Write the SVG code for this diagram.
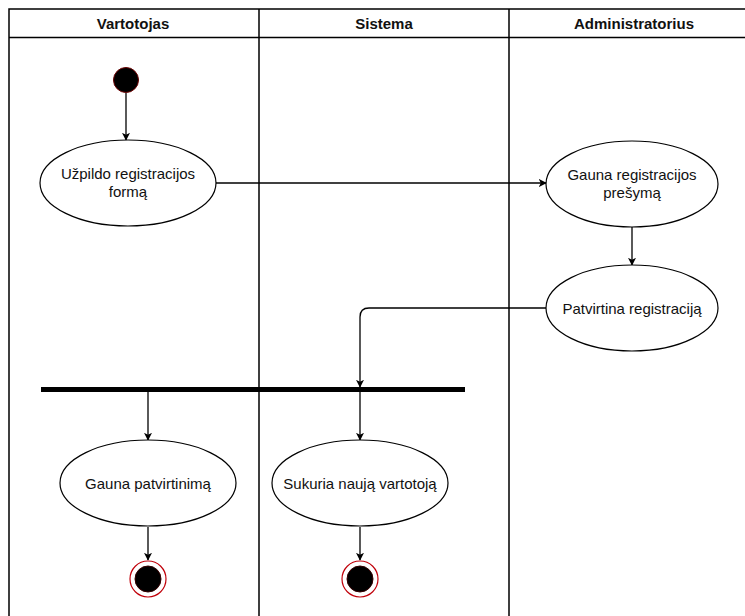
<svg xmlns="http://www.w3.org/2000/svg" width="745" height="616" viewBox="0 0 745 616">
  <style>
    .lane { fill: none; stroke: #000; stroke-width: 1.5; }
    .head { font-family: "Liberation Sans", Arial, sans-serif; font-size: 15px; font-weight: bold; fill: #111; text-anchor: middle; }
    .act { fill: #fff; stroke: #000; stroke-width: 1.2; }
    .lbl { font-family: "Liberation Sans", Arial, sans-serif; font-size: 15px; fill: #111; text-anchor: middle; }
    .edge { fill: none; stroke: #000; stroke-width: 1.3; }
    .start { fill: #000; stroke: #6b0000; stroke-width: 1; }
    .endring { fill: #fff; stroke: #c0000a; stroke-width: 1.2; }
    .endcore { fill: #000; stroke: #300; stroke-width: 1; }
  </style>
  <defs>
    <marker id="arrow" viewBox="0 0 10 10" refX="9" refY="5" markerWidth="8" markerHeight="8" markerUnits="userSpaceOnUse" orient="auto">
      <path d="M0,0 L10,5 L0,10 L2.5,5 Z" fill="#000"/>
    </marker>
  </defs>
  <rect width="745" height="616" fill="#fff"/>

  <!-- swimlanes -->
  <g id="lanes">
    <path class="lane" d="M9,620 V9 H760 M9,37.5 H760 M259,9 V620 M509,9 V620"/>
    <text class="head" x="133" y="29">Vartotojas</text>
    <text class="head" x="384" y="29">Sistema</text>
    <text class="head" x="634" y="29">Administratorius</text>
  </g>

  <!-- connectors -->
  <g id="connectors">
    <path class="edge" d="M126,93 V140" marker-end="url(#arrow)"/>
    <path class="edge" d="M216,183 H546" marker-end="url(#arrow)"/>
    <path class="edge" d="M632,227 V265" marker-end="url(#arrow)"/>
    <path class="edge" d="M546,308 H369 Q360,308 360,317 V387" marker-end="url(#arrow)"/>
    <path class="edge" d="M148,392 V440" marker-end="url(#arrow)"/>
    <path class="edge" d="M360,392 V440" marker-end="url(#arrow)"/>
    <path class="edge" d="M148,527 V560" marker-end="url(#arrow)"/>
    <path class="edge" d="M360,527 V560" marker-end="url(#arrow)"/>
  </g>

  <g id="start">
    <circle class="start" cx="126" cy="80" r="12.5"/>
  </g>

  <g id="uzpildo">
    <ellipse class="act" cx="128" cy="183" rx="88" ry="43"/>
    <text class="lbl" x="128" y="179">Užpildo registracijos</text>
    <text class="lbl" x="128" y="197">formą</text>
  </g>

  <g id="gauna-prasyma">
    <ellipse class="act" cx="632" cy="184" rx="86" ry="43"/>
    <text class="lbl" x="632" y="180">Gauna registracijos</text>
    <text class="lbl" x="632" y="198">prešymą</text>
  </g>

  <g id="patvirtina">
    <ellipse class="act" cx="632" cy="308" rx="86" ry="43"/>
    <text class="lbl" x="632" y="314">Patvirtina registraciją</text>
  </g>

  <g id="fork">
    <rect x="41" y="387" width="424" height="5" fill="#000"/>
  </g>

  <g id="gauna-patvirtinima">
    <ellipse class="act" cx="148" cy="483" rx="88" ry="43"/>
    <text class="lbl" x="148" y="489">Gauna patvirtinimą</text>
  </g>

  <g id="sukuria">
    <ellipse class="act" cx="360" cy="483" rx="88" ry="43"/>
    <text class="lbl" x="360" y="489">Sukuria naują vartotoją</text>
  </g>

  <g id="end-1">
    <circle class="endring" cx="148" cy="579" r="18"/>
    <circle class="endcore" cx="148" cy="579" r="13"/>
  </g>

  <g id="end-2">
    <circle class="endring" cx="360" cy="579" r="18"/>
    <circle class="endcore" cx="360" cy="579" r="13"/>
  </g>
</svg>
